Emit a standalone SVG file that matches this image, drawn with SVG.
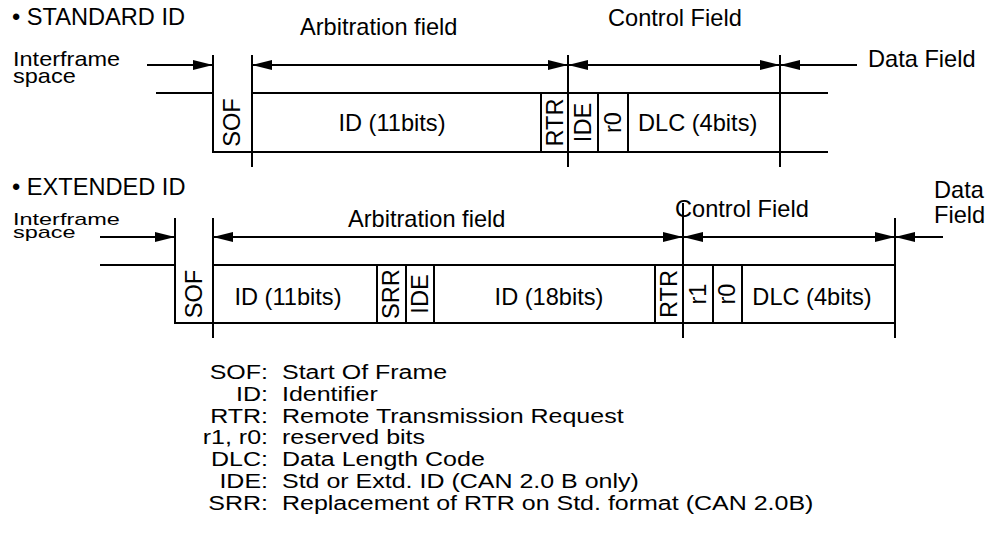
<svg xmlns="http://www.w3.org/2000/svg" width="997" height="546" viewBox="0 0 997 546">
<style>
.ln{stroke:#000;stroke-width:2;fill:none}
.ar{stroke:#000;stroke-width:2;fill:none;marker-end:url(#ah)}
.dar{stroke:#000;stroke-width:2;fill:none;marker-start:url(#ah);marker-end:url(#ah)}
.t{font-family:"Liberation Sans",Arial,Helvetica,sans-serif;font-size:23.6px;fill:#000}
.c{text-anchor:middle}
.sm{font-size:17px}
.md{font-size:21px}
.lg{font-size:20px}
.e{text-anchor:end}
</style>
<defs>
<marker id="ah" viewBox="0 0 20 10" refX="20" refY="5" markerWidth="20" markerHeight="10" markerUnits="userSpaceOnUse" orient="auto-start-reverse">
<path d="M0,0 L20,5 L0,10 z" fill="#000"/>
</marker>
</defs>
<rect width="997" height="546" fill="#fff"/>

<!-- STANDARD ID -->
<g id="standard-titles">
<text class="t" x="12" y="25">• STANDARD ID</text>
<text class="t" x="300" y="35">Arbitration field</text>
<text class="t" x="608" y="26">Control Field</text>
<text class="t md" transform="translate(13,66) scale(1.12,1)">Interframe</text>
<text class="t md" transform="translate(13,83) scale(1.12,1)">space</text>
<text class="t" x="868" y="67">Data Field</text>
</g>
<g id="std-frame">
<path class="ln" d="M156,93 H213 M213,55 V152 H828 M252,93 H828 M252,55 V167 M568,55 V167 M780,55 V167 M541,93 V152 M598,93 V152 M628,93 V152"/>
</g>
<g id="std-sof"><text class="t c" transform="translate(232,122.5) rotate(-90)" y="8.4">SOF</text></g>
<g id="std-id"><text class="t c" x="392" y="131">ID (11bits)</text></g>
<g id="std-rtr"><text class="t c" transform="translate(555,122.5) rotate(-90)" y="8.4">RTR</text></g>
<g id="std-ide"><text class="t c" transform="translate(583,122.5) rotate(-90)" y="8.4">IDE</text></g>
<g id="std-r0"><text class="t c" transform="translate(613,122.5) rotate(-90)" y="8.4">r0</text></g>
<g id="std-dlc"><text class="t" x="638" y="131">DLC (4bits)</text></g>

<!-- EXTENDED ID -->
<g id="extended-titles">
<text class="t" x="12" y="195">• EXTENDED ID</text>
<text class="t" x="348" y="227">Arbitration field</text>
<text class="t" x="675" y="217">Control Field</text>
<text class="t sm" transform="translate(13,225) scale(1.38,1)">Interframe</text>
<text class="t sm" transform="translate(13,238) scale(1.38,1)">space</text>
<text class="t" x="934" y="198">Data</text>
<text class="t" x="934" y="223">Field</text>
</g>
<g id="ext-frame">
<path class="ln" d="M100,265 H175 M175,218 V323 H895 M213,265 H895 M213,218 V338 M683,203 V338 M895,218 V338 M377,265 V323 M406,265 V323 M434,265 V323 M655,265 V323 M713,265 V323 M742,265 V323"/>
</g>
<g id="ext-sof"><text class="t c" transform="translate(194,294) rotate(-90)" y="8.4">SOF</text></g>
<g id="ext-id11"><text class="t c" x="288" y="305">ID (11bits)</text></g>
<g id="ext-srr"><text class="t c" transform="translate(391,294) rotate(-90)" y="8.4">SRR</text></g>
<g id="ext-ide"><text class="t c" transform="translate(420,294) rotate(-90)" y="8.4">IDE</text></g>
<g id="ext-id18"><text class="t c" x="549" y="305">ID (18bits)</text></g>
<g id="ext-rtr"><text class="t c" transform="translate(669,294) rotate(-90)" y="8.4">RTR</text></g>
<g id="ext-r1"><text class="t c" transform="translate(698,294) rotate(-90)" y="8.4">r1</text></g>
<g id="ext-r0"><text class="t c" transform="translate(727,294) rotate(-90)" y="8.4">r0</text></g>
<g id="ext-dlc"><text class="t c" x="812" y="305">DLC (4bits)</text></g>

<!-- connectors -->
<g id="connectors">
<line class="ar" x1="147" y1="65" x2="213" y2="65"/>
<line class="dar" x1="252" y1="65" x2="568" y2="65"/>
<line class="dar" x1="568" y1="65" x2="780" y2="65"/>
<line class="ar" x1="857" y1="65" x2="780" y2="65"/>
<line class="ar" x1="100" y1="237" x2="175" y2="237"/>
<line class="dar" x1="213" y1="237" x2="683" y2="237"/>
<line class="dar" x1="683" y1="237" x2="895" y2="237"/>
<line class="ar" x1="943" y1="237" x2="895" y2="237"/>
</g>

<!-- legend -->
<g id="legend" transform="translate(275,0) scale(1.25,1)">
<text class="t lg e" x="-5.6" y="379">SOF:</text><text class="t lg" x="5.6" y="379">Start Of Frame</text>
<text class="t lg e" x="-5.6" y="401">ID:</text><text class="t lg" x="5.6" y="401">Identifier</text>
<text class="t lg e" x="-5.6" y="423">RTR:</text><text class="t lg" x="5.6" y="423">Remote Transmission Request</text>
<text class="t lg e" x="-5.6" y="444">r1, r0:</text><text class="t lg" x="5.6" y="444">reserved bits</text>
<text class="t lg e" x="-5.6" y="466">DLC:</text><text class="t lg" x="5.6" y="466">Data Length Code</text>
<text class="t lg e" x="-5.6" y="488">IDE:</text><text class="t lg" x="5.6" y="488">Std or Extd. ID (CAN 2.0 B only)</text>
<text class="t lg e" x="-5.6" y="510">SRR:</text><text class="t lg" x="5.6" y="510">Replacement of RTR on Std. format (CAN 2.0B)</text>
</g>
</svg>
